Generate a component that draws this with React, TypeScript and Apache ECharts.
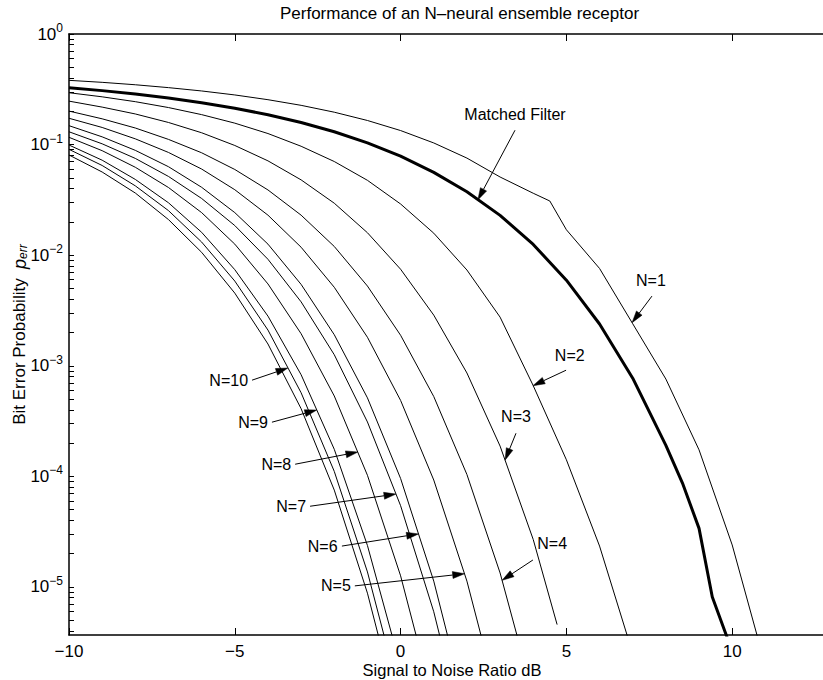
import { useEffect, useRef } from "react";
import * as echarts from "echarts";

const FONT = "'Liberation Sans', Arial, Helvetica, sans-serif";

// SNR sample points (dB) and log10 of the bit error probability for each curve
const mfSnr = [-10, -9, -8, -7, -6, -5, -4, -3, -2, -1, 0, 1, 2, 3, 4, 5, 6, 7, 8, 8.5, 9, 9.4, 9.9];
const mfLog = [-0.485, -0.512, -0.543, -0.579, -0.621, -0.671, -0.73, -0.8, -0.884, -0.985, -1.105, -1.251, -1.426, -1.64, -1.903, -2.226, -2.622, -3.112, -3.719, -4.06, -4.47, -5.09, -5.5];

const n1Snr = [-10, -9, -8, -7, -6, -5, -4, -3, -2, -1, 0, 1, 2, 3, 4, 4.5, 5, 6, 7, 8, 9, 10, 11];
const n1Log = [-0.419, -0.437, -0.459, -0.485, -0.515, -0.551, -0.594, -0.645, -0.707, -0.782, -0.873, -0.985, -1.122, -1.293, -1.44, -1.51, -1.77, -2.12, -2.62, -3.12, -3.76, -4.62, -5.71];

const n2Snr = [-10, -9, -8, -7, -6, -5, -4, -3, -2, -1, 0, 1, 2, 3, 4, 5, 6, 7];
const n2Log = [-0.531, -0.568, -0.612, -0.665, -0.729, -0.806, -0.9, -1.015, -1.153, -1.323, -1.537, -1.801, -2.134, -2.56, -3.18, -3.85, -4.63, -5.6];

const n3Snr = [-10, -9, -8, -7, -6, -5, -4, -3, -2, -1, 0, 1, 2, 3, 4, 4.72];
const n3Log = [-0.607, -0.661, -0.723, -0.8, -0.893, -1.008, -1.147, -1.319, -1.53, -1.797, -2.127, -2.542, -3.065, -3.726, -4.571, -5.34];

const n4Snr = [-10, -9, -8, -7, -6, -5, -4, -3, -2, -1, 0, 1, 2, 3, 4];
const n4Log = [-0.697, -0.767, -0.85, -0.953, -1.074, -1.225, -1.41, -1.638, -1.921, -2.279, -2.724, -3.278, -3.983, -4.873, -5.98];

const n5Snr = [-10, -9, -8, -7, -6, -5, -4, -3, -2, -1, 0, 1, 2, 3];
const n5Log = [-0.762, -0.845, -0.948, -1.071, -1.221, -1.408, -1.638, -1.928, -2.29, -2.742, -3.313, -4.033, -4.947, -6.1];

const n6Snr = [-10, -9, -8, -7, -6, -5, -4, -3, -2, -1, 0, 1, 2];
const n6Log = [-0.829, -0.93, -1.052, -1.2, -1.386, -1.615, -1.9, -2.264, -2.719, -3.29, -4.019, -4.947, -6.13];

const n7Snr = [-10, -9, -8, -7, -6, -5, -4, -3, -2, -1, 0, 1, 2];
const n7Log = [-0.884, -0.993, -1.125, -1.288, -1.487, -1.732, -2.037, -2.422, -2.9, -3.508, -4.265, -5.224, -6.43];

const n8Snr = [-10, -9, -8, -7, -6, -5, -4, -3, -2, -1, 0, 1];
const n8Log = [-0.934, -1.055, -1.205, -1.388, -1.615, -1.9, -2.26, -2.71, -3.273, -3.99, -4.899, -6.05];

const n9Snr = [-10, -9, -8, -7, -6, -5, -4, -3, -2, -1, 0];
const n9Log = [-1.004, -1.141, -1.315, -1.526, -1.793, -2.131, -2.551, -3.081, -3.755, -4.625, -5.72];

const n10Snr = [-10, -9, -8, -7, -6, -5, -4, -3, -2, -1, 0];
const n10Log = [-1.043, -1.189, -1.373, -1.597, -1.881, -2.234, -2.677, -3.244, -3.955, -4.864, -6.01];

// leftmost, unlabelled curve
const n11Snr = [-10, -9, -8, -7, -6, -5, -4, -3, -2, -1, 0];
const n11Log = [-1.094, -1.248, -1.438, -1.678, -1.974, -2.343, -2.803, -3.388, -4.124, -5.056, -6.22];

// Text arrows: label, label anchor, arrow tail, arrow tip (dB, log10 p)
const annText = ["Matched Filter", "N=1", "N=2", "N=3", "N=4", "N=5", "N=6", "N=7", "N=8", "N=9", "N=10"];
const annAlign = ["center", "center", "center", "center", "center", "right", "right", "right", "right", "right", "right"];
const annLabel = [[3.45, -0.8], [7.55, -2.3], [5.1, -2.975], [3.48, -3.53], [4.57, -4.68], [-1.5, -4.99], [-1.9, -4.63], [-2.85, -4.27], [-3.3, -3.89], [-4.0, -3.51], [-4.6, -3.13]];
const annTail = [[3.45, -0.87], [7.58, -2.37], [4.99, -3.04], [3.48, -3.61], [3.99, -4.756], [-1.38, -4.99], [-1.77, -4.63], [-2.73, -4.27], [-3.18, -3.89], [-3.88, -3.51], [-4.48, -3.13]];
const annTip = [[2.33, -1.5], [6.98, -2.61], [3.99, -3.18], [3.15, -3.853], [3.06, -4.94], [1.93, -4.88], [0.54, -4.52], [-0.14, -4.16], [-1.29, -3.78], [-2.53, -3.4], [-3.4, -3.02]];

// Axis layout
const X_MIN = -10;
const X_MAX = 13.1;
const X_STEP = 5;
const Y_MIN = 3.68e-6;
const Y_MAX = 1;
const yMajor = [1e-5, 1e-4, 1e-3, 1e-2, 1e-1, 1];

const curves = [
  { name: "Matched Filter", snr: mfSnr, lg: mfLog, width: 3 },
  { name: "N=1", snr: n1Snr, lg: n1Log, width: 1 },
  { name: "N=2", snr: n2Snr, lg: n2Log, width: 1 },
  { name: "N=3", snr: n3Snr, lg: n3Log, width: 1 },
  { name: "N=4", snr: n4Snr, lg: n4Log, width: 1 },
  { name: "N=5", snr: n5Snr, lg: n5Log, width: 1 },
  { name: "N=6", snr: n6Snr, lg: n6Log, width: 1 },
  { name: "N=7", snr: n7Snr, lg: n7Log, width: 1 },
  { name: "N=8", snr: n8Snr, lg: n8Log, width: 1 },
  { name: "N=9", snr: n9Snr, lg: n9Log, width: 1 },
  { name: "N=10", snr: n10Snr, lg: n10Log, width: 1 },
  { name: "N=11", snr: n11Snr, lg: n11Log, width: 1 },
];

function minorTicks(): number[] {
  const out: number[] = [];
  for (let e = -6; e <= 0; e++) {
    for (let m = 1; m <= 9; m++) {
      const v = m * Math.pow(10, e);
      if (v >= Y_MIN && v <= Y_MAX) out.push(v);
    }
  }
  return out;
}

const MINUS = "\u2212";

export default function App() {
  const ref = useRef<HTMLDivElement>(null);

  useEffect(() => {
    if (!ref.current) return;
    const chart = echarts.init(ref.current, undefined, { renderer: "svg" });
    const W = 823;
    const left = 69;
    const top = 34;
    const bottom = 45;
    const pxPerDb = 33.16;
    const gridWidth = (X_MAX - X_MIN) * pxPerDb;
    const right = W - left - gridWidth;

    const tickStyle = { color: "#000", width: 1 };

    chart.setOption({
      animation: false,
      backgroundColor: "#fff",
      grid: { left, top, right, bottom, containLabel: false, outerBoundsMode: "none" },
      xAxis: [
        {
          type: "value",
          min: X_MIN,
          max: X_MAX,
          interval: X_STEP,
          name: "Signal to Noise Ratio dB",
          nameLocation: "middle",
          nameGap: 26,
          nameMoveOverlap: false,
          nameTextStyle: { fontFamily: FONT, fontSize: 16.5, color: "#000", lineHeight: 17 },
          axisLine: { show: true, onZero: false, lineStyle: { color: "#000", width: 1.5 } },
          axisTick: { show: true, inside: true, length: 7, lineStyle: tickStyle },
          axisLabel: {
            show: true,
            margin: 8,
            fontFamily: FONT,
            fontSize: 17,
            lineHeight: 17,
            color: "#000",
            showMaxLabel: false,
            formatter: (v: number) => (v < 0 ? MINUS + Math.abs(v) : String(v)),
          },
          splitLine: { show: false },
        },
        {
          type: "value",
          position: "top",
          min: X_MIN,
          max: X_MAX,
          interval: X_STEP,
          axisLine: { show: true, onZero: false, lineStyle: { color: "#000", width: 1.5 } },
          axisTick: { show: true, inside: true, length: 7, lineStyle: tickStyle },
          axisLabel: { show: false },
          splitLine: { show: false },
        },
      ],
      yAxis: {
        type: "log",
        logBase: 10,
        min: Y_MIN,
        max: Y_MAX,
        name: "{t|Bit Error Probability  }{p|p}{e|err}",
        nameLocation: "middle",
        nameGap: 40,
        nameMoveOverlap: false,
        nameTextStyle: {
          fontFamily: FONT,
          fontSize: 17,
          color: "#000",
          rich: {
            t: { fontFamily: FONT, fontSize: 17, color: "#000" },
            p: { fontFamily: FONT, fontSize: 18, fontStyle: "italic", color: "#000" },
            e: { fontFamily: FONT, fontSize: 12, fontStyle: "italic", color: "#000", padding: [7, 0, 0, 0] },
          },
        },
        axisLine: { show: true, onZero: false, lineStyle: { color: "#000", width: 1.5 } },
        axisTick: { show: true, inside: true, length: 5, lineStyle: tickStyle, customValues: minorTicks() },
        axisLabel: {
          show: true,
          margin: 6,
          customValues: yMajor,
          formatter: (v: number) => {
            const e = Math.round(Math.log10(v));
            return "{b|10}{s|" + (e === 0 ? "0" : MINUS + Math.abs(e)) + "}";
          },
          rich: {
            b: { fontFamily: FONT, fontSize: 17, color: "#000" },
            s: { fontFamily: FONT, fontSize: 12, color: "#000", padding: [0, 0, 12, 0] },
          },
        },
        splitLine: { show: false },
      },
      series: curves.map((c) => ({
        name: c.name,
        type: "line",
        xAxisIndex: 0,
        yAxisIndex: 0,
        symbol: "none",
        clip: true,
        silent: true,
        lineStyle: { color: "#000", width: c.width },
        data: c.snr.map((s, i) => [s, Math.pow(10, c.lg[i])]),
      })),
    });

    // Annotation texts and arrows placed through the axes' own coordinate mapping
    const toPx = (p: number[]) =>
      chart.convertToPixel({ xAxisIndex: 0, yAxisIndex: 0 }, [p[0], Math.pow(10, p[1])]) as number[];

    const elements: any[] = [
      {
        type: "text",
        x: 459.5,
        y: 13,
        style: {
          text: "Performance of an N\u2013neural ensemble receptor",
          fontFamily: FONT,
          fontSize: 17,
          fill: "#000",
          align: "center",
          verticalAlign: "middle",
        },
      },
    ];

    annText.forEach((t, i) => {
      const lp = toPx(annLabel[i]);
      const tail = toPx(annTail[i]);
      const tip = toPx(annTip[i]);
      const isRight = annAlign[i] === "right";
      elements.push({
        type: "text",
        x: lp[0],
        y: lp[1],
        style: {
          text: t,
          fontFamily: FONT,
          fontSize: 16,
          fill: "#000",
          align: isRight ? "right" : "center",
          verticalAlign: isRight ? "middle" : "bottom",
        },
      });
      const dx = tip[0] - tail[0];
      const dy = tip[1] - tail[1];
      const len = Math.hypot(dx, dy);
      const ux = dx / len;
      const uy = dy / len;
      const headLen = 12;
      const headHalf = 3.5;
      const bx = tip[0] - ux * headLen;
      const by = tip[1] - uy * headLen;
      elements.push({
        type: "line",
        shape: { x1: tail[0], y1: tail[1], x2: bx, y2: by },
        style: { stroke: "#000", lineWidth: 1 },
      });
      elements.push({
        type: "polygon",
        shape: {
          points: [
            [tip[0], tip[1]],
            [bx - uy * headHalf, by + ux * headHalf],
            [bx + uy * headHalf, by - ux * headHalf],
          ],
        },
        style: { fill: "#000", stroke: "#000", lineWidth: 0.5 },
      });
    });

    chart.setOption({ graphic: { elements } });

    return () => chart.dispose();
  }, []);

  return <div ref={ref} style={{ width: 823, height: 680, position: "absolute", left: 0, top: 0 }} />;
}
